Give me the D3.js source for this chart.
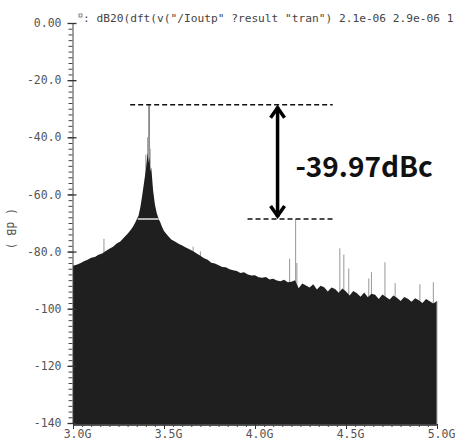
<!DOCTYPE html>
<html><head><meta charset="utf-8">
<script src="https://cdn.jsdelivr.net/npm/d3@7"></script>
<style>
html,body{margin:0;padding:0;background:#fff;}
svg{display:block;}
</style></head>
<body>
<svg id="chart" width="455" height="443"></svg>
<script>
// ---- data ----
const titleText = ": dB20(dft(v(\"/Ioutp\" ?result \"tran\") 2.1e-06 2.9e-06 1";
const yLabel = "( dB )";
const yMajorTicks = [0, -20, -40, -60, -80, -100, -120, -140];
const yTickLabels = ["0.00", "-20.0", "-40.0", "-60.0", "-80.0", "-100", "-120", "-140"];
const xMajorTicks = [3.0, 3.5, 4.0, 4.5, 5.0];
const xTickLabels = ["3.0G", "3.5G", "4.0G", "4.5G", "5.0G"];

// noise floor envelope: GHz and dB
const floorGHz = [3.00,3.02,3.04,3.06,3.08,3.10,3.12,3.14,3.16,3.18,3.20,3.22,3.24,3.26,3.28,3.30,3.31,3.32,3.33,3.34,3.35,3.36,3.37,3.38,3.39,3.40,3.405,3.41,3.415,3.42,3.425,3.43,3.44,3.45,3.46,3.47,3.48,3.49,3.50,3.51,3.52,3.53,3.54,3.56,3.58,3.60,3.62,3.64,3.66,3.68,3.70,3.72,3.74,3.76,3.78,3.80,3.82,3.84,3.86,3.88,3.90,3.92,3.94,3.96,3.98,4.00,4.02,4.04,4.06,4.08,4.10,4.12,4.14,4.16,4.18,4.20,4.22,4.24,4.26,4.28,4.30,4.32,4.34,4.36,4.38,4.40,4.42,4.44,4.46,4.48,4.50,4.52,4.54,4.56,4.58,4.60,4.62,4.64,4.66,4.68,4.70,4.72,4.74,4.76,4.78,4.80,4.82,4.84,4.86,4.88,4.90,4.92,4.94,4.96,4.98,5.00];
const floorDb = [-85.0,-84.6,-84.1,-83.4,-82.9,-82.2,-81.9,-81.1,-80.7,-79.8,-79.0,-78.3,-77.2,-76.5,-75.1,-73.8,-73.0,-72.2,-71.2,-70.1,-68.8,-67.5,-64.5,-60.5,-56.0,-51.5,-48.5,-45.5,-49.0,-47.0,-52.0,-50.5,-58.5,-63.5,-66.5,-68.5,-69.8,-71.5,-72.8,-73.6,-74.4,-75.1,-75.8,-76.5,-77.3,-77.9,-78.6,-79.2,-79.9,-80.7,-81.5,-82.3,-82.9,-83.9,-84.2,-84.8,-85.4,-85.5,-86.2,-86.5,-86.8,-87.5,-87.2,-88.0,-88.4,-88.3,-89.0,-89.2,-88.9,-89.8,-89.5,-90.1,-90.4,-89.9,-90.7,-90.6,-90.0,-92.8,-91.2,-91.9,-92.6,-91.4,-93.3,-92.0,-92.5,-94.0,-92.6,-93.1,-94.4,-92.9,-94.0,-95.4,-93.8,-94.6,-95.8,-94.3,-96.0,-94.8,-95.1,-96.6,-95.0,-95.9,-96.8,-95.4,-96.2,-97.3,-95.9,-96.5,-97.6,-96.3,-97.0,-98.0,-96.6,-97.4,-98.2,-97.3];

// narrow spectral lines rising above the floor: GHz and dB
const spikeGHz = [3.418,3.410,3.424,3.400,3.170,3.660,3.700,4.190,4.223,4.230,4.466,4.488,4.515,4.625,4.640,4.714,4.770,4.906,4.980];
const spikeDb  = [-28.6,-40.0,-44.0,-46.0,-75.5,-78.3,-80.0,-82.5,-68.6,-84.0,-78.8,-81.0,-85.9,-89.4,-87.2,-83.7,-91.0,-91.4,-90.7];

// annotation
const carrierDb = -28.6, spurDb = -68.6;
const annoLabel = "-39.97dBc";
const topDashGHz = [3.314, 4.427];
const botDashGHz = [3.959, 4.438];
const arrowGHz = 4.124;
const labelGHz = 4.222, labelDb = -53.9;
const whiteBarGHz = [3.356, 3.47];

// ---- drawing ----
const svg = d3.select("#chart");
const x = d3.scaleLinear().domain([3, 5]).range([73, 437]);
const y = d3.scaleLinear().domain([0, -140]).range([23, 423]);
const mono = "'DejaVu Sans Mono', 'Liberation Mono', monospace";

// spikes (grey) drawn beneath the filled floor
const spikes = spikeGHz.map((f, i) => [f, spikeDb[i]]);
svg.append("g").selectAll("line").data(spikes).join("line")
  .attr("x1", d => x(d[0])).attr("x2", d => x(d[0]))
  .attr("y1", d => y(d[1])).attr("y2", y(-120))
  .attr("stroke", (d, i) => i === 0 ? "#7a7a7a" : "#a0a0a0")
  .attr("stroke-width", (d, i) => i === 0 ? 1.6 : 1.1);

// filled spectrum
const floor = floorGHz.map((f, i) => [f, floorDb[i]]);
const area = d3.area().x(d => x(d[0])).y0(y(-141)).y1(d => y(d[1]));
svg.append("path").datum(floor).attr("d", area).attr("fill", "#1f1f1f");
svg.append("line").attr("x1", x(5)).attr("x2", x(5))
  .attr("y1", y(floorDb[floorDb.length - 1])).attr("y2", y(-141))
  .attr("stroke", "#aaa").attr("stroke-width", 1);

// y axis
const yMinor = d3.range(0, -141, -2);
const gyMinor = svg.append("g").attr("transform", `translate(${x(3) - 0.5},0)`)
  .call(d3.axisLeft(y).tickValues(yMinor).tickSize(4).tickFormat(""));
gyMinor.select(".domain").attr("stroke", "#444");
gyMinor.selectAll(".tick line").attr("stroke", "#444");
const gyMajor = svg.append("g").attr("transform", `translate(${x(3) - 0.5},0)`)
  .call(d3.axisLeft(y).tickValues(yMajorTicks).tickSize(4).tickPadding(7)
    .tickFormat((d, i) => yTickLabels[i]));
gyMajor.select(".domain").remove();
gyMajor.selectAll(".tick line").attr("x1", 4).attr("x2", -5).attr("stroke", "#333").attr("stroke-width", 1.3);
gyMajor.selectAll(".tick text").attr("font-family", mono).attr("font-size", 11.5).attr("fill", "#555");

// x axis
const xMinor = d3.range(3, 5.001, 0.05);
const gxMinor = svg.append("g").attr("transform", `translate(0,${y(-140) + 1})`)
  .call(d3.axisBottom(x).tickValues(xMinor).tickSize(3).tickFormat(""));
gxMinor.select(".domain").attr("stroke", "#444");
gxMinor.selectAll(".tick line").attr("stroke", "#444");
const gxMajor = svg.append("g").attr("transform", `translate(0,${y(-140) + 1})`)
  .call(d3.axisBottom(x).tickValues(xMajorTicks).tickSize(5).tickPadding(1)
    .tickFormat((d, i) => xTickLabels[i]));
gxMajor.select(".domain").remove();
gxMajor.selectAll(".tick line").attr("stroke", "#333");
gxMajor.selectAll(".tick text").attr("font-family", mono).attr("font-size", 11.5)
  .attr("fill", "#555").attr("dx", 4);

// title: small square marker plus expression text
svg.append("rect").attr("x", x(3) + 6).attr("y", 14).attr("width", 3).attr("height", 3)
  .attr("fill", "none").attr("stroke", "#666").attr("stroke-width", 0.8);
svg.append("text").attr("x", x(3) + 10).attr("y", 22)
  .attr("font-family", mono).attr("font-size", 11.2).attr("fill", "#444")
  .attr("xml:space", "preserve").text(titleText);

// y-axis label
svg.append("text").attr("transform", `translate(7,${y(-72)}) rotate(90)`)
  .attr("text-anchor", "middle").attr("font-family", mono).attr("font-size", 11.5)
  .attr("fill", "#555").text(yLabel);

// annotation
const ann = svg.append("g");
ann.append("line").attr("x1", x(whiteBarGHz[0])).attr("x2", x(whiteBarGHz[1]))
  .attr("y1", y(spurDb)).attr("y2", y(spurDb)).attr("stroke", "#e6e6e6").attr("stroke-width", 1.5);
ann.append("line").attr("x1", x(topDashGHz[0])).attr("x2", x(topDashGHz[1]))
  .attr("y1", y(carrierDb)).attr("y2", y(carrierDb))
  .attr("stroke", "#111").attr("stroke-width", 1.6).attr("stroke-dasharray", "5,3");
ann.append("line").attr("x1", x(botDashGHz[0])).attr("x2", x(botDashGHz[1]))
  .attr("y1", y(spurDb)).attr("y2", y(spurDb))
  .attr("stroke", "#111").attr("stroke-width", 1.6).attr("stroke-dasharray", "5,3");
const ax = x(arrowGHz), ay1 = y(carrierDb) + 2, ay2 = y(spurDb) - 2;
ann.append("line").attr("x1", ax).attr("x2", ax).attr("y1", ay1).attr("y2", ay2)
  .attr("stroke", "#000").attr("stroke-width", 3.5);
ann.append("path")
  .attr("d", `M${ax - 7},${ay1 + 11} L${ax},${ay1 + 1} L${ax + 7},${ay1 + 11}`)
  .attr("fill", "none").attr("stroke", "#000").attr("stroke-width", 3.5)
  .attr("stroke-linejoin", "miter");
ann.append("path")
  .attr("d", `M${ax - 7},${ay2 - 11} L${ax},${ay2 - 1} L${ax + 7},${ay2 - 11}`)
  .attr("fill", "none").attr("stroke", "#000").attr("stroke-width", 3.5)
  .attr("stroke-linejoin", "miter");
ann.append("text").attr("x", x(labelGHz)).attr("y", y(labelDb))
  .attr("font-family", "'Noto Sans CJK KR', 'Noto Sans', sans-serif")
  .attr("font-weight", "bold").attr("font-size", 28).attr("fill", "#111")
  .text(annoLabel);
</script>
</body></html>
